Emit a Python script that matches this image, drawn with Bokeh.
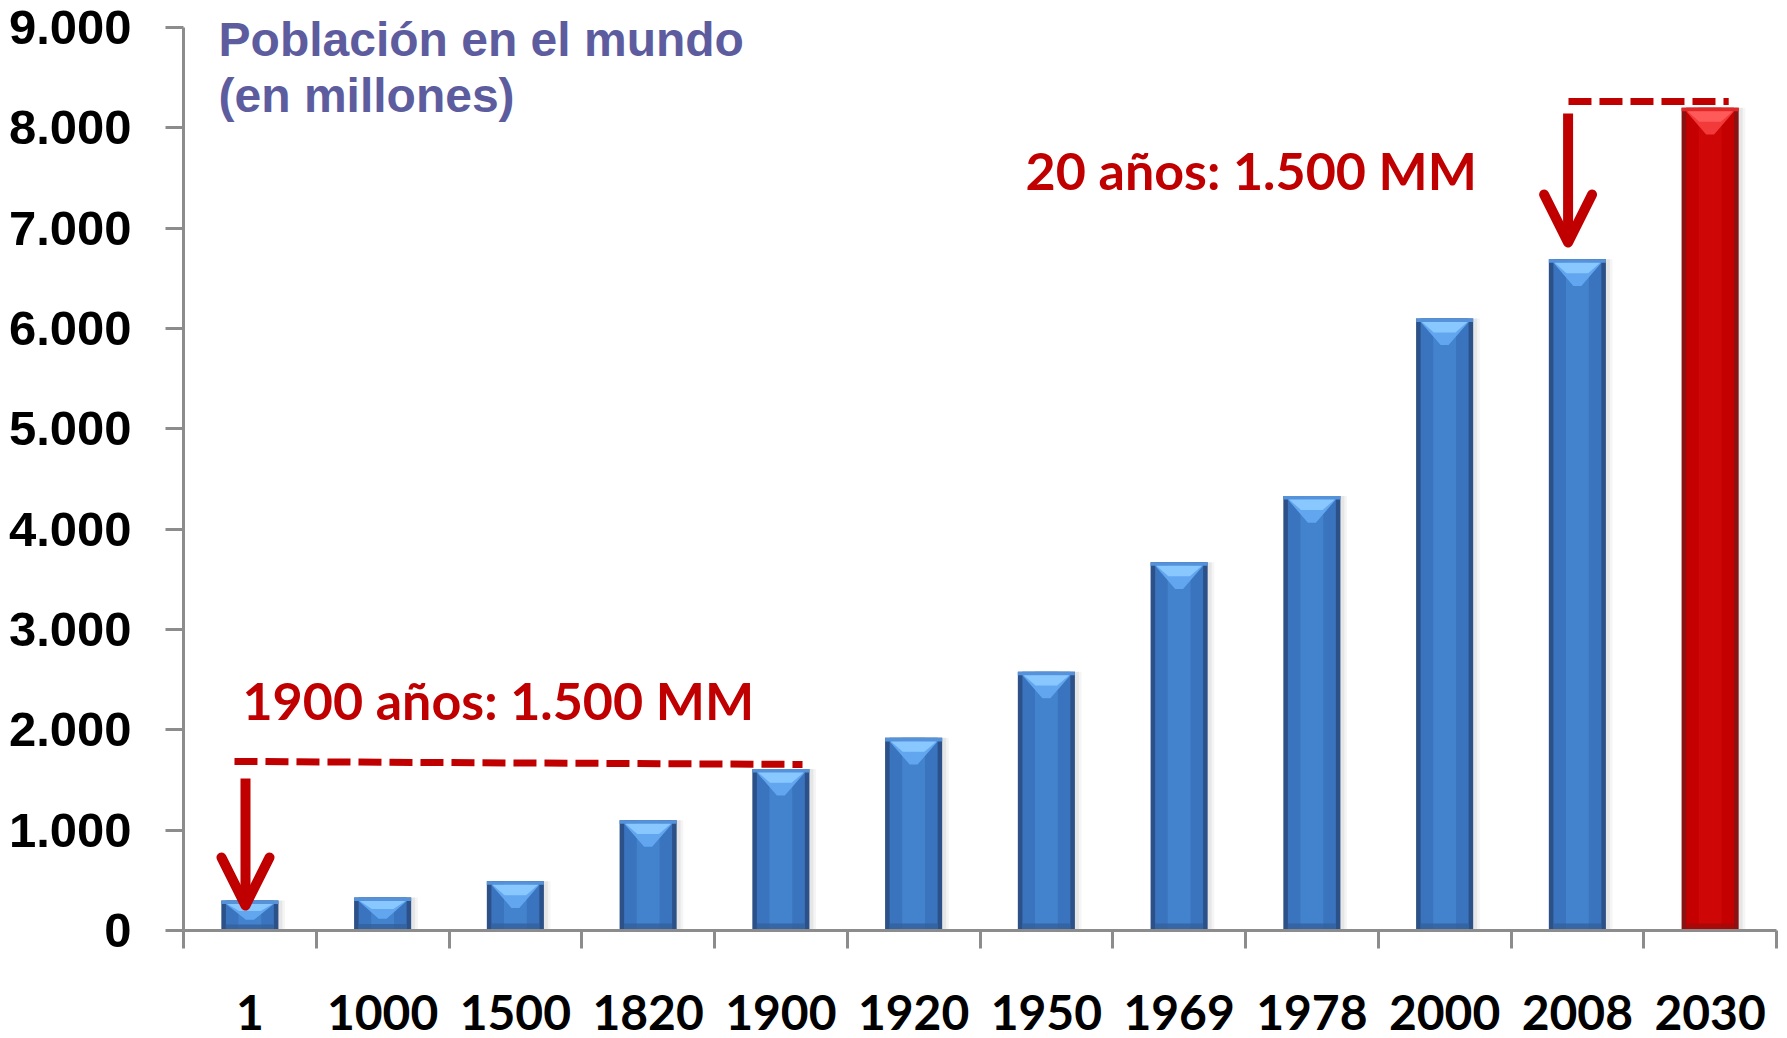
from bokeh.plotting import figure
from bokeh.models import Range1d, FixedTicker, Arrow, OpenHead, ColumnDataSource
from bokeh.core.properties import value
from bokeh.embed import file_html
from bokeh.resources import INLINE

# ---- data ----
categories = ["1", "1000", "1500", "1820", "1900", "1920", "1950",
              "1969", "1978", "2000", "2008", "2030"]
population = [300, 330, 490, 1100, 1610, 1920, 2580, 3670, 4330, 6100, 6690, 8200]
y_ticks = [0, 1000, 2000, 3000, 4000, 5000, 6000, 7000, 8000, 9000]
y_tick_labels = ["0", "1.000", "2.000", "3.000", "4.000", "5.000",
                 "6.000", "7.000", "8.000", "9.000"]
title_lines = ["Población en el mundo", "(en millones)"]
note_1 = "1900 años: 1.500 MM"
note_2 = "20 años: 1.500 MM"

RED = "#C00000"
n = len(categories)
xc = [i + 0.5 for i in range(n)]

p = figure(frame_width=1593, frame_height=914, output_backend="svg",
           toolbar_location=None, x_range=Range1d(0, n), y_range=Range1d(0, 9110),
           min_border_left=183, min_border_right=2, min_border_top=16,
           min_border_bottom=108, background_fill_color="white",
           border_fill_color="white")
p.outline_line_color = None
p.grid.grid_line_color = None

AX = "#8C8C8C"
# y axis
ya = p.yaxis[0]
ya.ticker = FixedTicker(ticks=y_ticks)
ya.major_label_overrides = {t: l for t, l in zip(y_ticks, y_tick_labels)}
ya.bounds = (0, 9000)
ya.axis_line_color = AX
ya.axis_line_width = 3
ya.major_tick_line_color = AX
ya.major_tick_line_width = 3
ya.major_tick_out = 18
ya.major_tick_in = 0
ya.minor_tick_line_color = None
ya.major_label_standoff = 34
ya.major_label_text_font = "Liberation Sans"
ya.major_label_text_font_style = "bold"
ya.major_label_text_font_size = "49px"
ya.major_label_text_color = "black"

# x axis: labels at centres, ticks at boundaries
xa = p.xaxis[0]
xa.ticker = FixedTicker(ticks=xc, minor_ticks=list(range(n + 1)))
xa.major_label_overrides = {c: l for c, l in zip(xc, categories)}
xa.axis_line_color = AX
xa.axis_line_width = 3
xa.major_tick_line_color = None
xa.major_tick_out = 0
xa.major_tick_in = 0
xa.minor_tick_line_color = AX
xa.minor_tick_line_width = 3
xa.minor_tick_out = 18
xa.minor_tick_in = 0
xa.major_label_standoff = 46
xa.major_label_text_font = "Lato"
xa.major_label_text_font_style = "bold"
xa.major_label_text_font_size = "48px"
xa.major_label_text_color = "black"

# ---- bars with glossy look ----
W = 0.43
is_last = [i == n - 1 for i in range(n)]
edge_c = ["#8A1212" if r else "#2C5188" for r in is_last]
body_c = ["#C40000" if r else "#3A74BE" for r in is_last]
mid_c = ["#D20808" if r else "#4686D0" for r in is_last]
strip_c = ["#E02828" if r else "#5592DA" for r in is_last]
tri_c = ["#F23A3A" if r else "#62A6F0" for r in is_last]
tri2_c = ["#FF5A5A" if r else "#88C8FF" for r in is_last]
bot_c = ["#A00A0A" if r else "#34609C" for r in is_last]

src = ColumnDataSource(dict(x=xc, top=population, edge=edge_c, body=body_c,
                            mid=mid_c, strip=strip_c, bot=bot_c,
                            xs1=[i + 0.03 for i in xc], xs2=[i + 0.05 for i in xc]))

# soft shadows
p.vbar(x="xs2", top="top", width=W, bottom=0, source=src, fill_color="#000000",
       fill_alpha=0.04, line_color=None)
p.vbar(x="xs1", top="top", width=W, bottom=0, source=src, fill_color="#000000",
       fill_alpha=0.06, line_color=None)
# edges and body
p.vbar(x="x", top="top", width=W, bottom=0, source=src, fill_color="edge", line_color=None)
p.vbar(x="x", top="top", width=W * 0.84, bottom=0, source=src, fill_color="body",
       line_color=None)
p.vbar(x="x", top="top", width=W * 0.4, bottom=0, source=src, fill_color="mid",
       line_color=None, fill_alpha=0.8)
# bottom darker band
bot_top = [min(70, v * 0.2) for v in population]
p.vbar(x=xc, top=bot_top, width=W * 0.84, bottom=0, fill_color=bot_c,
       line_color=None, fill_alpha=0.8)
# top strip
strip_h = 35
p.vbar(x=xc, top=population, bottom=[v - strip_h for v in population], width=W,
       fill_color=strip_c, line_color=None)
# top inverted triangles
tri_xs, tri_ys, tri2_xs, tri2_ys = [], [], [], []
for x, v in zip(xc, population):
    t0 = v - strip_h
    d = min(230, (v - strip_h) * 0.6)
    hw = W * 0.84 / 2
    tri_xs.append([x - hw, x + hw, x + 0.03, x - 0.03])
    tri_ys.append([t0, t0, t0 - d, t0 - d])
    tri2_xs.append([x - hw * 0.95, x + hw * 0.95, x + hw * 0.45, x - hw * 0.45])
    tri2_ys.append([t0, t0, t0 - d * 0.45, t0 - d * 0.45])
p.patches(tri_xs, tri_ys, fill_color=tri_c, line_color=None)
p.patches(tri2_xs, tri2_ys, fill_color=tri2_c, line_color=None)

# ---- annotations ----
# dashed reference lines
p.line([0.384, 4.663], [1685, 1655], line_color=RED, line_width=7, line_dash="23 8")
p.line([10.433, 11.64], [8263, 8263], line_color=RED, line_width=7, line_dash="23 8")

# arrows
for (xa0, y0, y1) in [(0.467, 1515, 250), (10.43, 8143, 6857)]:
    p.add_layout(Arrow(end=OpenHead(size=48, line_color=RED, line_width=10,
                                    line_cap="round", line_join="round"),
                       x_start=xa0, y_start=y0, x_end=xa0, y_end=y1,
                       line_color=RED, line_width=10))

# red notes
p.text(x=[0.444], y=[2300], text=[note_1], text_color=RED,
       text_font=value("Lato"), text_font_style="bold", text_font_size="52px",
       text_baseline="alphabetic", text_align="left")
p.text(x=[6.343], y=[7585], text=[note_2], text_color=RED,
       text_font=value("Lato"), text_font_style="bold", text_font_size="52px",
       text_baseline="alphabetic", text_align="left")

# title
p.text(x=[0.264, 0.264], y=[8880, 8320], text=title_lines, text_color="#5C5C9E",
       text_font=value("Liberation Sans"), text_font_style="bold",
       text_font_size="48px", text_baseline="alphabetic", text_align="left")

open("out.html", "w").write(file_html(p, INLINE))
